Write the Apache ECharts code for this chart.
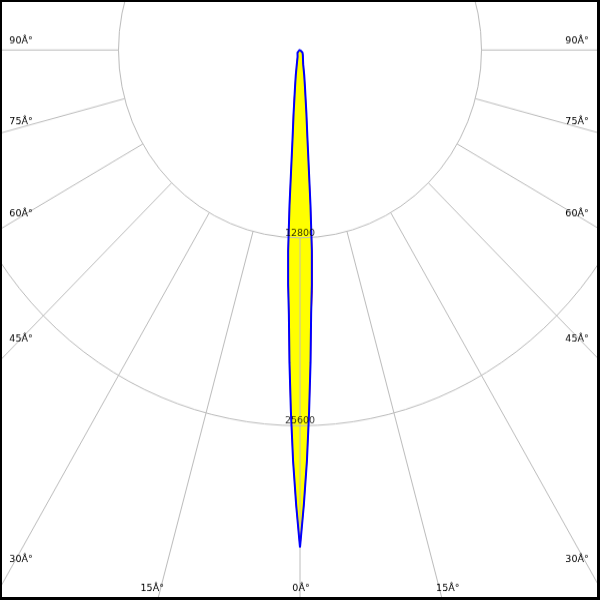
<!DOCTYPE html>
<html><head><meta charset="utf-8">
<script src="https://cdn.jsdelivr.net/npm/echarts@6/dist/echarts.min.js"></script>
<style>
html,body{margin:0;padding:0;background:#fff;}
#wrap{position:relative;width:600px;height:600px;overflow:hidden;background:#fff;}
#c{position:absolute;left:0;top:0;width:600px;transform-origin:0 0;}
#frame{position:absolute;left:0;top:0;width:600px;height:600px;box-sizing:border-box;border-style:solid;border-color:#000;border-width:2px 3px 3px 2px;pointer-events:none;}
</style></head><body>
<div id="wrap"><div id="c"></div><div id="frame"></div></div>
<script>
// ---- data ----
const gammaAngles   = [0, 0.5, 1, 1.5, 2, 2.5, 3, 3.5, 4, 5, 6, 7, 8, 10, 13, 20, 30, 45, 60, 75, 90];
const intensityC90  = [33900, 31000, 28000, 24600, 21300, 18000, 16000, 13700, 10600, 6000, 4300, 3150, 2500, 1700, 1000, 500, 400, 250, 120, 50, 0];
const intensityC270 = [33900, 31000, 28000, 24600, 21300, 18000, 16000, 13700, 10600, 6000, 4300, 3150, 2500, 1700, 1000, 500, 400, 250, 120, 50, 0];
const intensityC0   = [33900, 31000, 28000, 24600, 21300, 18100, 16400, 14200, 10600, 6000, 4300, 3150, 2500, 1700, 1000, 500, 400, 250, 120, 50, 0];
const intensityC180 = [33900, 31000, 28000, 24600, 21300, 18000, 16000, 13700, 10600, 6000, 4500, 3350, 2500, 1700, 1000, 500, 400, 250, 120, 50, 0];
const radiusTicks   = [12800, 25600];
const radiusStep    = 12800;
const angleStep     = 15;
const edgeAngles    = [90, 75, 60, 45, 30];
const bottomAngles  = [15, 0];
const degSuffix     = 'Â°';

// ---- layout ----
const K = 1.035;              // vertical stretch of the original picture
const CH = 600 / K;
const cx = 300, cyS = 50;     // centre in screen px
const R1 = 181.5;             // px per radiusStep
const cy = cyS / K;
const el = document.getElementById('c');
el.style.height = CH + 'px';
el.style.transform = 'scaleY(' + K + ')';

function sideData(angles, leftVals, rightVals) {
  const d = [];
  for (let i = angles.length - 1; i >= 0; i--) d.push([rightVals[i], -angles[i]]);
  for (let i = 0; i < angles.length; i++) d.push([leftVals[i], angles[i]]);
  return d;
}
const redData  = sideData(gammaAngles, intensityC180, intensityC0);
const blueData = sideData(gammaAngles, intensityC270, intensityC90);

const FONT = '9.5px "DejaVu Sans"';
const graphics = [];
function addText(txt, xs, ys) {
  graphics.push({type: 'text', x: xs, y: ys / K, z: 10,
    style: {text: txt, font: FONT, fill: '#000', textAlign: 'center', textVerticalAlign: 'middle', align: 'center', verticalAlign: 'middle'}});
}
const rad = Math.PI / 180;
edgeAngles.forEach(a => {
  const yHit = cyS + 279 * K * Math.cos(a * rad) / Math.sin(a * rad);
  const off = a >= 45 ? (45 - a) / 5 : (45 - a) * 0.6;
  addText(a + degSuffix, 21, yHit + off);
  addText(a + degSuffix, 577, yHit + off);
});
bottomAngles.forEach(a => {
  const dx = 538 * Math.tan(a * rad) / K;
  const sh = a === 0 ? -1 : 8.5;
  addText(a + degSuffix, cx - dx - sh, 588);
  if (a !== 0) addText(a + degSuffix, cx + dx + sh, 588);
});

const chart = echarts.init(el, null, {renderer: 'canvas'});
const GRID = '#bcbcbc';
chart.setOption({
  animation: false,
  backgroundColor: '#fff',
  polar: [
    {center: [cx, cy], radius: [R1, 1000]},
    {center: [cx, cy], radius: R1 * 3}
  ],
  angleAxis: [
    {polarIndex: 0, type: 'value', min: -180, max: 180, interval: angleStep, startAngle: 90, clockwise: true, z: 3,
     axisLine: {show: false}, axisTick: {show: false}, axisLabel: {show: false},
     splitLine: {show: true, lineStyle: {color: GRID, width: 1}}},
    {polarIndex: 1, type: 'value', min: -180, max: 180, interval: angleStep, startAngle: 90, clockwise: true, show: false}
  ],
  radiusAxis: [
    {polarIndex: 0, type: 'value', show: false},
    {polarIndex: 1, type: 'value', min: 0, max: radiusStep * 3, interval: radiusStep, z: 3,
     axisLine: {show: false}, axisTick: {show: false}, axisLabel: {show: false},
     splitLine: {show: true, lineStyle: {color: [GRID, GRID, GRID, 'rgba(0,0,0,0)'], width: 1}}}
  ],
  graphic: graphics,
  series: [
    {type: 'line', coordinateSystem: 'polar', polarIndex: 1, data: redData, symbol: 'none', silent: true, z: 1,
     lineStyle: {width: 0, opacity: 0}, areaStyle: {color: '#ffff00', opacity: 1}},
    {type: 'line', coordinateSystem: 'polar', polarIndex: 1, data: blueData, symbol: 'none', silent: true, z: 1,
     lineStyle: {width: 0, opacity: 0}, areaStyle: {color: '#ffff00', opacity: 1}},
    {type: 'line', coordinateSystem: 'polar', polarIndex: 1, data: redData, symbol: 'none', silent: true, z: 5,
     lineStyle: {color: '#ff0000', width: 1}},
    {type: 'line', coordinateSystem: 'polar', polarIndex: 1, data: blueData, symbol: 'none', silent: true, z: 6,
     lineStyle: {color: '#0000ff', width: 2}},
    {type: 'scatter', coordinateSystem: 'polar', polarIndex: 1, data: radiusTicks.map(v => [v, 0]),
     symbolSize: 1, itemStyle: {color: 'rgba(0,0,0,0)'}, silent: true, z: 8,
     label: {show: true, position: 'top', distance: -1, formatter: p => String(p.value[0]),
             fontFamily: 'DejaVu Sans', fontSize: 9.5, color: '#000'}}
  ]
});
</script>
</body></html>
